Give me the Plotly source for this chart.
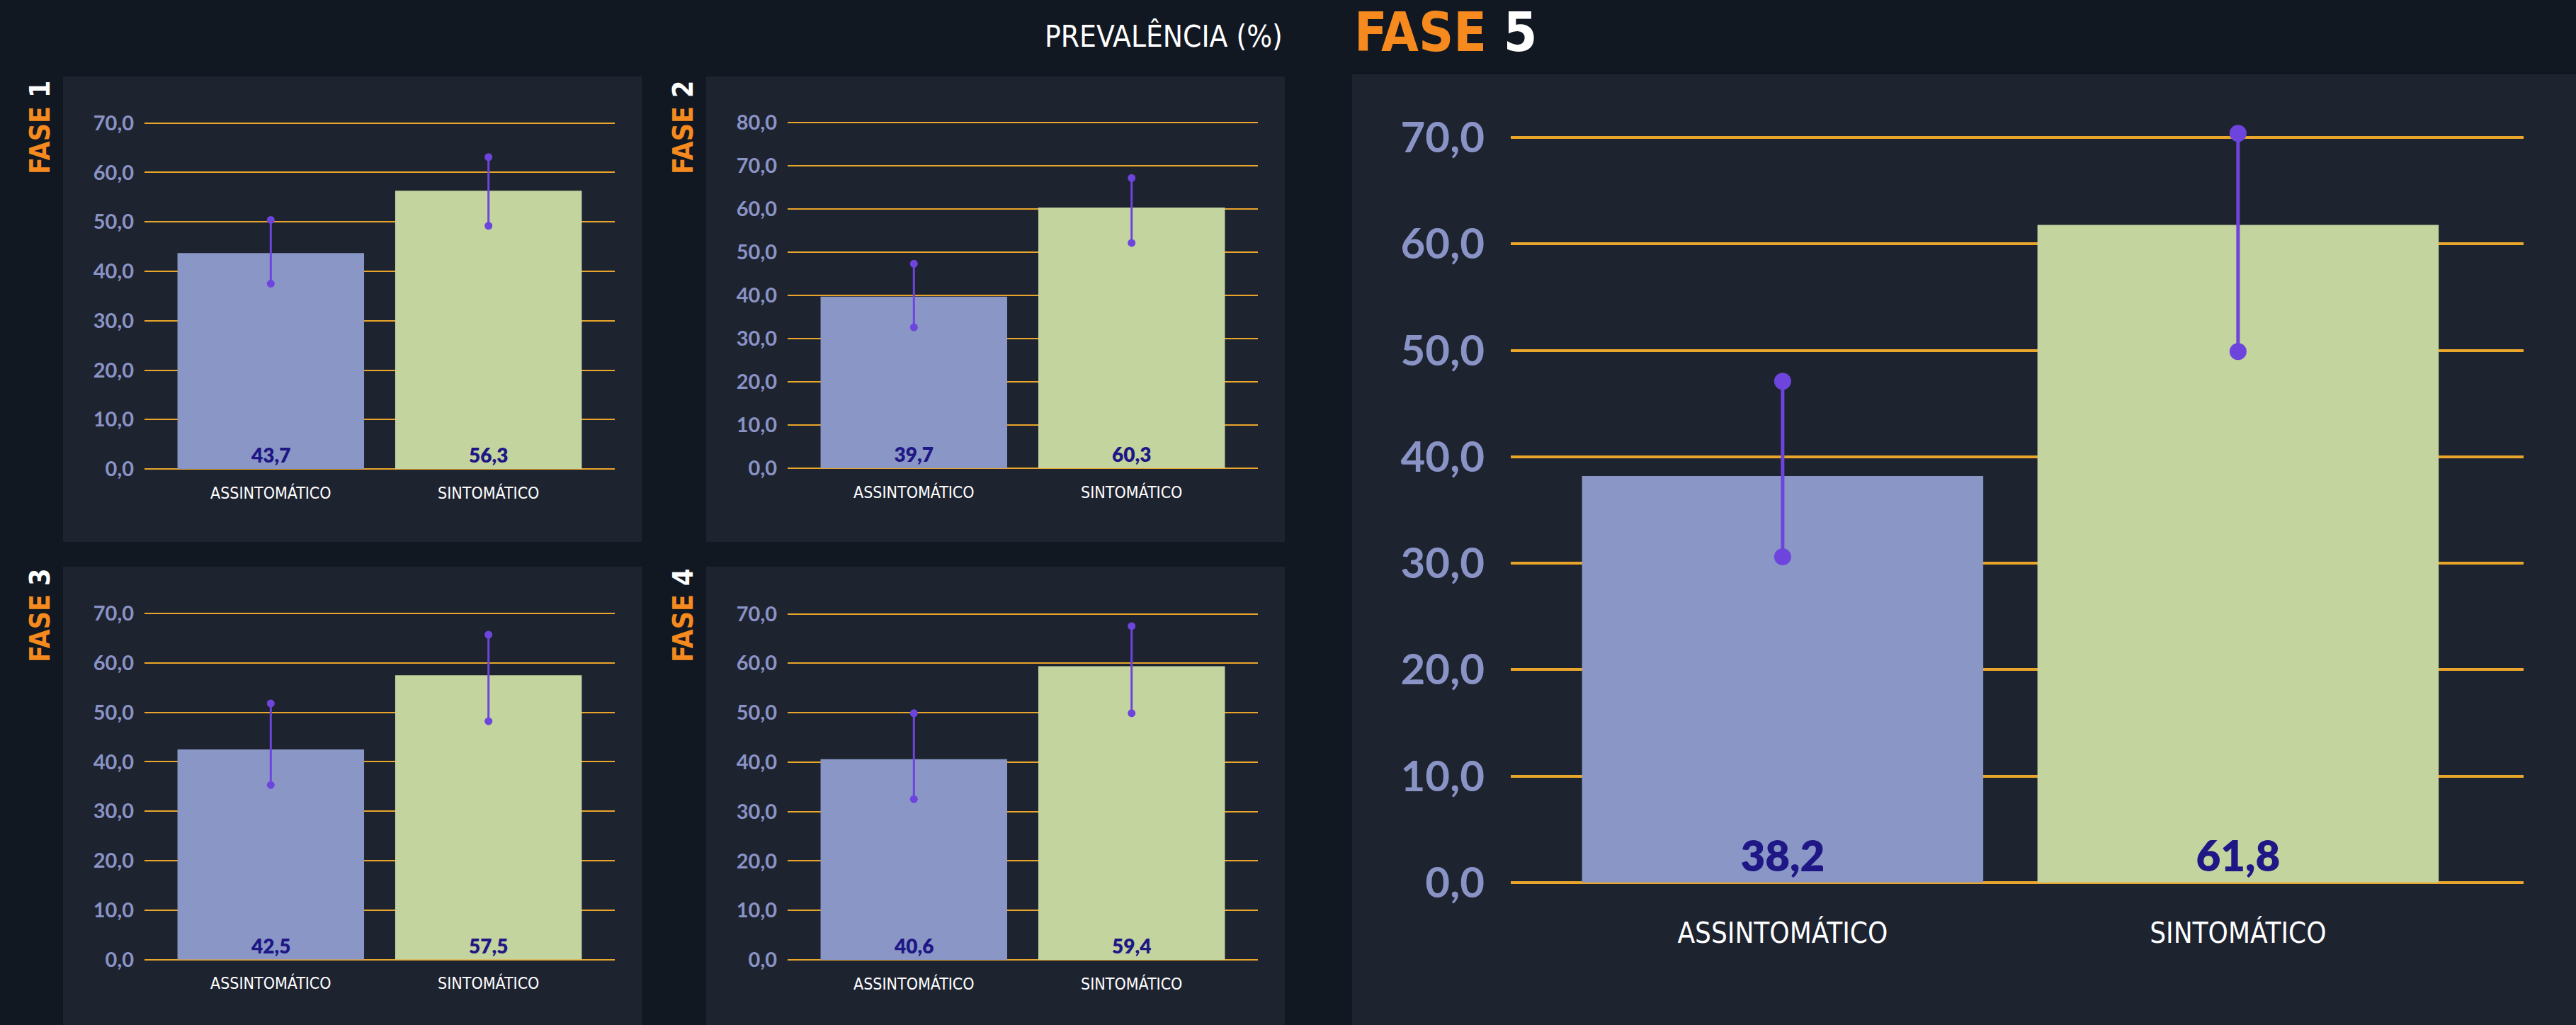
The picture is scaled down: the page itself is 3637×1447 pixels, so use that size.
import plotly.graph_objects as go

# ---------------- data ----------------
phases = ["FASE 1", "FASE 2", "FASE 3", "FASE 4", "FASE 5"]
categories = ["ASSINTOMÁTICO", "SINTOMÁTICO"]
asym_prev = [43.7, 39.7, 42.5, 40.6, 38.2]
sint_prev = [56.3, 60.3, 57.5, 59.4, 61.8]
asym_low = [37.5, 32.6, 35.3, 32.5, 30.6]
asym_high = [50.4, 47.3, 51.8, 49.9, 47.1]
sint_low = [49.2, 52.1, 48.2, 49.9, 49.9]
sint_high = [63.1, 67.1, 65.7, 67.5, 70.4]
y_top = [70, 80, 70, 70, 70]
title_text = "PREVALÊNCIA (%)"

# ---------------- styling ----------------
W, H = 3637, 1447
BG = "#121822"
PANEL = "#1e2330"
GRID = "#eaa62a"
PURPLE = "#6d45dc"
C_ASYM = "#8a97c6"
C_SINT = "#c3d49f"
VAL = "#1e1785"
TICK = "#8a93c6"
ORANGE = "#f68a1e"
COND = "Liberation Sans Narrow, DejaVu Sans Condensed, Roboto Condensed, sans-serif"
NUM = "Lato, Inter, sans-serif"

def fx(p):
    return p / W

def fy(p):
    return 1 - p / H

# panel geometry in pixels: (grid x0, grid x1, y-pixel of 0, y-pixel of top gridline)
geo = [
    (204, 868, 662.1, 173.6),
    (1112, 1776, 661.1, 172.6),
    (204, 868, 1354.6, 866.0),
    (1112, 1776, 1355.0, 866.5),
    (2133, 3563, 1245.8, 194.2),
]
panels = [
    (89, 906, 108, 765),
    (997, 1814, 108, 765),
    (89, 906, 800, 1447),
    (997, 1814, 800, 1447),
    (1909, 3637, 105, 1447),
]
big = [False, False, False, False, True]

fig = go.Figure()
layout = dict(
    width=W, height=H, margin=dict(l=0, r=0, t=0, b=0, pad=0),
    paper_bgcolor=BG, plot_bgcolor="rgba(0,0,0,0)",
    showlegend=False, separators=",.",
    shapes=[], annotations=[],
)

for i in range(5):
    ax = "" if i == 0 else str(i + 1)
    xa, ya = "x" + ax, "y" + ax
    gx0, gx1, y0p, ytp = geo[i]
    top = y_top[i]
    ppu = (y0p - ytp) / top
    pb, pt = 0.25, 2.0
    lg = big[i]
    if lg:
        xr = [-0.597, 1.627]
        bw = 0.881
    else:
        xr = [-0.58, 1.58]
        bw = 0.857
    dom_x = [fx(gx0), fx(gx1)]
    dom_y = [fy(y0p + pb * ppu), fy(ytp - pt * ppu)]

    fig.add_trace(go.Bar(
        x=categories, y=[asym_prev[i], sint_prev[i]],
        marker=dict(color=[C_ASYM, C_SINT], line=dict(width=0)),
        width=bw,
        texttemplate="%{y:.1f}", textposition="inside", insidetextanchor="start",
        textangle=0,
        insidetextfont=dict(family=NUM, size=60 if lg else 28, color=VAL, weight=800),
        xaxis=xa, yaxis=ya, hoverinfo="skip",
    ))
    for c, lo, hi in ((categories[0], asym_low[i], asym_high[i]),
                      (categories[1], sint_low[i], sint_high[i])):
        fig.add_trace(go.Scatter(
            x=[c, c], y=[lo, hi], mode="lines+markers",
            line=dict(color=PURPLE, width=5 if lg else 3),
            marker=dict(color=PURPLE, size=24 if lg else 11),
            cliponaxis=False, xaxis=xa, yaxis=ya, hoverinfo="skip",
        ))

    layout["xaxis" + ax] = dict(
        domain=dom_x, anchor=ya, type="category", range=xr, automargin=False,
        showgrid=False, zeroline=False, showline=False, ticks="",
        tickfont=dict(family=COND, size=40 if lg else 23, color="#ffffff"),
        ticklabelstandoff=40 if lg else 16,
    )
    layout["yaxis" + ax] = dict(
        domain=dom_y, anchor=xa, range=[-pb, top + pt], automargin=False,
        tickmode="linear", tick0=0, dtick=10, tickformat=".1f",
        showgrid=True, gridcolor=GRID, gridwidth=3.5 if lg else 2,
        zeroline=False, showline=False, ticks="",
        tickfont=dict(family=NUM, size=60 if lg else 29, color=TICK, weight=700),
        ticklabelstandoff=36 if lg else 14,
    )

    px0, px1, py0, py1 = panels[i]
    layout["shapes"].append(dict(
        type="rect", xref="paper", yref="paper", layer="below",
        x0=fx(px0), x1=fx(px1), y0=fy(py1), y1=fy(py0),
        fillcolor=PANEL, line=dict(width=0),
    ))

    num = phases[i].split(" ")[1]
    label = f"<span style='color:{ORANGE}'>FASE</span> <span style='color:#ffffff'>{num}</span>"
    if lg:
        layout["annotations"].append(dict(
            text=label, xref="paper", yref="paper",
            x=fx(1911), y=fy(0), xanchor="left", yanchor="top",
            showarrow=False, borderpad=0,
            font=dict(family=COND, size=76, weight=700),
        ))
    else:
        cx = 56.5 if i in (0, 2) else 964.5
        ty = 111 if i in (0, 1) else 800
        layout["annotations"].append(dict(
            text=label, xref="paper", yref="paper",
            x=fx(cx), y=fy(ty), xanchor="center", yanchor="top",
            textangle=-90, showarrow=False,
            font=dict(family=COND, size=39, weight=700),
        ))

layout["annotations"].append(dict(
    text=title_text, xref="paper", yref="paper",
    x=fx(1813), y=fy(51), xanchor="right", yanchor="middle",
    showarrow=False, font=dict(family=COND, size=42, color="#ffffff"),
))

fig.update_layout(**layout)
fig.write_html(
    "out.html",
    config={"displayModeBar": False},
    post_script="document.body.style.margin='0';document.body.style.overflow='hidden';",
)
